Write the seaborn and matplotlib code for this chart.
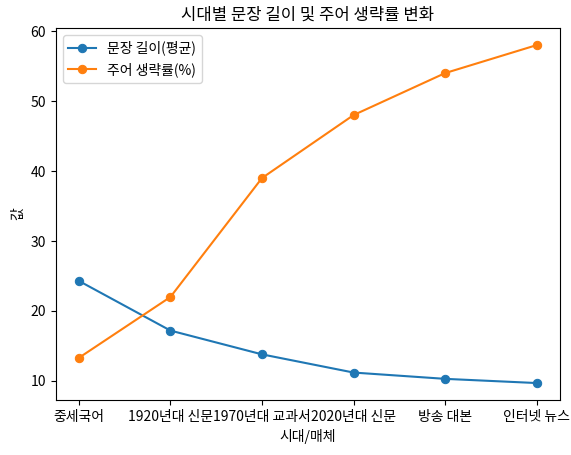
import matplotlib
matplotlib.use("Agg")
import matplotlib.pyplot as plt
import seaborn as sns
import pandas as pd

eras = ["중세국어", "1920년대 신문", "1970년대 교과서", "2020년대 신문", "방송 대본", "인터넷 뉴스"]
sentence_len = [24.3, 17.2, 13.8, 11.2, 10.3, 9.7]
subject_drop = [13.3, 22.0, 39.0, 48.0, 54.0, 58.0]

plt.rcParams['font.family'] = ['Noto Sans CJK KR', 'DejaVu Sans']

df = pd.DataFrame({
    "시대/매체": eras * 2,
    "값": sentence_len + subject_drop,
    "series": ["문장 길이(평균)"] * 6 + ["주어 생략률(%)"] * 6,
})

fig, ax = plt.subplots(figsize=(5.71, 4.55), dpi=100)
sns.lineplot(data=df, x="시대/매체", y="값", hue="series", marker="o",
             markersize=6, sort=False, ax=ax)
for ln in ax.lines:
    ln.set_markeredgecolor(ln.get_color())
ax.legend(title=None, loc="upper left")
ax.set_title("시대별 문장 길이 및 주어 생략률 변화")
ax.set_yticks([10, 20, 30, 40, 50, 60])
fig.subplots_adjust(left=0.098, right=0.98, top=0.938, bottom=0.121)
fig.savefig("out.png", dpi=100)
